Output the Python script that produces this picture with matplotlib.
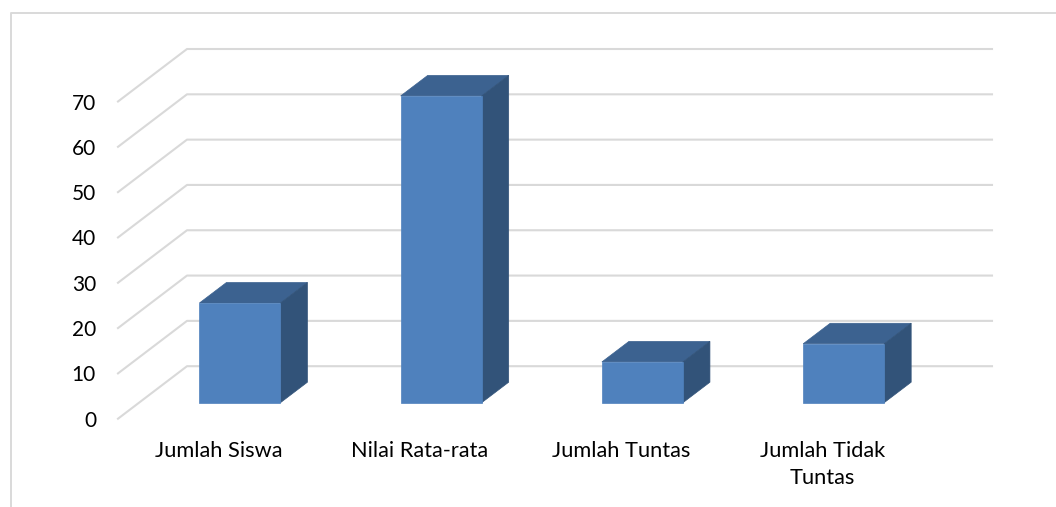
import matplotlib
matplotlib.use('Agg')
import matplotlib.pyplot as plt
from matplotlib.lines import Line2D
from matplotlib.patches import Polygon

plt.rcParams['font.family'] = ['Lato', 'DejaVu Sans']

categories = ['Jumlah Siswa', 'Nilai Rata-rata', 'Jumlah Tuntas', 'Jumlah Tidak\nTuntas']
values = [22, 67.7, 9, 13]
y_ticks = [0, 10, 20, 30, 40, 50, 60, 70]

W, H = 1056, 507
GRID = '#d9d9d9'
FRONT = '#4f81bd'
TOP = '#3c6290'
SIDE = '#325379'

# depth of the fake 3d box, in data units
WALL_DX = 69 / 201.25
WALL_DY = 52.5 / 4.531
BAR_W = 81 / 201.25
BAR_DX = 27 / 201.25
BAR_DY = 20.5 / 4.531
BAR_OFF_X = 21.3 / 201.25
BAR_OFF_Y = 16 / 4.531

fig = plt.figure(figsize=(W / 100, H / 100), dpi=100)

# outer chart frame, only top and left show up in the picture
fig.add_artist(Line2D([10.5 / W, 10.5 / W, 1], [0, 1 - 13 / H, 1 - 13 / H], transform=fig.transFigure,
                      color=GRID, linewidth=1.4))

# the axes is the front plane of the box
ax = fig.add_axes([118 / W, 1 - 418.7 / H, 805 / W, 317.2 / H])
ax.set_xlim(-0.5, 3.5)
ax.set_ylim(0, 70)
ax.axis('off')

for t in y_ticks:
    ax.plot([-0.5, -0.5 + WALL_DX, 3.5 + WALL_DX], [t, t + WALL_DY, t + WALL_DY],
            color=GRID, linewidth=1.5, clip_on=False, zorder=1)
    ax.text(-0.5 - 22 / 201.25, t, str(t), ha='right', va='center_baseline', fontsize=15, color='black')

for i, v in enumerate(values):
    x0 = i - BAR_W / 2 + BAR_OFF_X
    x1 = x0 + BAR_W
    y0 = BAR_OFF_Y
    y1 = y0 + v
    top = [(x0, y1), (x1, y1), (x1 + BAR_DX, y1 + BAR_DY), (x0 + BAR_DX, y1 + BAR_DY)]
    side = [(x1, y0), (x1 + BAR_DX, y0 + BAR_DY), (x1 + BAR_DX, y1 + BAR_DY), (x1, y1)]
    front = [(x0, y0), (x1, y0), (x1, y1), (x0, y1)]
    ax.add_patch(Polygon(top, facecolor=TOP, edgecolor=TOP, linewidth=0.5, clip_on=False, zorder=3))
    ax.add_patch(Polygon(side, facecolor=SIDE, edgecolor=SIDE, linewidth=0.5, clip_on=False, zorder=3))
    ax.add_patch(Polygon(front, facecolor=FRONT, edgecolor=FRONT, linewidth=0.5, clip_on=False, zorder=4))
    ax.text(i, -4.9, categories[i], ha='center', va='top', fontsize=15.7, color='black',
            linespacing=1.45, clip_on=False)

fig.savefig('out.png', dpi=100)
